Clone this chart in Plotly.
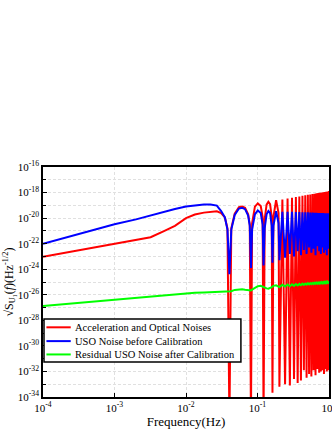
import numpy as np
import plotly.graph_objects as go

# frequency grid (Hz): smooth part, then notches / lobe tops
freq = [1e-4, 2e-4, 5e-4, 1e-3, 2e-3, 3.2e-3, 5e-3, 7e-3, 1e-2, 0.0133, 0.0178, 0.022,
        0.027, 0.031, 0.035, 0.038, 0.0405,
        0.043, 0.048, 0.055, 0.061, 0.067, 0.074, 0.078, 0.081,
        0.084, 0.092, 0.101, 0.111, 0.118, 0.1215,
        0.126, 0.134, 0.142, 0.150, 0.158, 0.162,
        0.167, 0.182, 0.197, 0.2025,
        0.22275, 0.243, 0.26325, 0.2835, 0.30375, 0.324, 0.34425, 0.3645,
        0.38475, 0.405, 0.42525, 0.4455, 0.46575, 0.486, 0.50625, 0.5265,
        0.54675, 0.567, 0.58725, 0.6075, 0.62775, 0.648, 0.66825, 0.6885,
        0.70875, 0.729, 0.74925, 0.7695, 0.78975, 0.81, 0.83025, 0.8505,
        0.87075, 0.891, 0.91125, 0.9315, 0.95175, 0.972,
        1.0]

# log10 of the amplitude spectral densities
red_log = [-23.02, -22.72, -22.32, -21.97, -21.7, -21.5, -21.0, -20.6, -20.0, -19.72, -19.57, -19.5,
           -19.47, -19.6, -19.95, -20.8, -36,
           -20.8, -19.65, -19.15, -19.1, -19.2, -19.7, -20.5, -36,
           -20.4, -19.1, -18.85, -19.05, -19.9, -36,
           -20.1, -18.95, -18.72, -18.9, -19.9, -33.66,
           -19.9, -18.6, -19.6, -33.2,
           -18.54, -33.0, -18.47, -33.1, -18.40, -32.6, -18.35, -32.9,
           -18.30, -32.7, -18.26, -31.9, -18.22, -32.5, -18.18, -32.2,
           -18.15, -32.4, -18.12, -31.9, -18.09, -32.3, -18.06, -31.8,
           -18.03, -32.1, -18.01, -32.0, -17.99, -31.9, -17.97, -32.2,
           -17.95, -31.8, -17.93, -32.0, -17.91, -31.9,
           -17.88]

blue_log = [-22.0, -21.55, -20.95, -20.48, -20.1, -19.78, -19.5, -19.29, -19.1, -19.0, -18.93, -18.93,
            -19.02, -19.45, -19.95, -20.9, -24.4,
            -20.9, -19.75, -19.25, -19.2, -19.3, -19.8, -20.6, -23.9,
            -20.9, -19.7, -19.4, -19.6, -20.5, -23.7,
            -20.8, -19.7, -19.45, -19.6, -20.6, -23.5,
            -20.6, -19.45, -20.4, -23.3,
            -19.50, -23.1, -19.50, -22.8, -19.50, -23.0, -19.52, -22.6,
            -19.52, -22.9, -19.55, -22.5, -19.55, -22.8, -19.55, -22.3,
            -19.57, -22.7, -19.57, -22.4, -19.58, -22.9, -19.58, -22.2,
            -19.60, -22.6, -19.60, -22.8, -19.60, -22.3, -19.60, -22.7,
            -19.62, -22.5, -19.62, -22.9, -19.62, -22.4,
            -19.62]

green_log = [-26.88, -26.73, -26.53, -26.38, -26.23, -26.13, -26.03, -25.96, -25.88, -25.85, -25.82, -25.8,
             -25.8, -25.8, -25.79, -25.78, -25.76,
             -25.72, -25.62, -25.56, -25.56, -25.6, -25.66, -25.68, -25.66,
             -25.6, -25.45, -25.33, -25.3, -25.38, -25.42,
             -25.45, -25.5, -25.52, -25.48, -25.4, -25.36,
             -25.3, -25.26, -25.36, -25.4,
             -25.22, -25.36, -25.2, -25.33, -25.18, -25.3, -25.16, -25.27,
             -25.15, -25.25, -25.13, -25.23, -25.12, -25.21, -25.1, -25.19,
             -25.09, -25.17, -25.08, -25.16, -25.06, -25.14, -25.05, -25.13,
             -25.04, -25.12, -25.03, -25.11, -25.02, -25.1, -25.01, -25.09,
             -25.0, -25.08, -24.99, -25.07, -24.98, -25.06,
             -24.97]

names = ["Acceleration and Optical Noises",
         "USO Noise before Calibration",
         "Residual USO Noise after Calibration"]
colors = ["#ff0000", "#0000ff", "#00ff00"]

x_ticks = [1e-4, 1e-3, 1e-2, 1e-1, 1e0]
x_labels = ["10<sup>-4</sup>", "10<sup>-3</sup>", "10<sup>-2</sup>", "10<sup>-1</sup>", "10<sup>0</sup>"]
y_exp = [-16, -18, -20, -22, -24, -26, -28, -30, -32, -34]
y_minor_exp = [-17, -19, -21, -23, -25, -27, -29, -31, -33]

font = "Liberation Serif"
grid_col = "#e0e0e0"

fig = go.Figure()
for name, vals, c in zip(names, [red_log, blue_log, green_log], colors):
    fig.add_trace(go.Scatter(x=freq, y=10.0 ** np.array(vals), mode="lines", name=name,
                             line=dict(color=c, width=2), showlegend=False))

axis_common = dict(type="log", showline=True, linecolor="black", linewidth=1.5, mirror=True,
                   ticks="inside", ticklen=4, tickcolor="black", tickwidth=1,
                   showgrid=True, gridcolor=grid_col, griddash="3px,2px", gridwidth=1,
                   zeroline=False, automargin=False, ticklabeloverflow="allow",
                   tickfont=dict(family=font, size=11, color="black"))

fig.update_xaxes(range=[-4, 0], tickvals=x_ticks, ticktext=x_labels,
                 title=dict(text="Frequency(Hz)", font=dict(family=font, size=13, color="black"),
                            standoff=2),
                 **axis_common)
fig.update_yaxes(range=[-34, -16], tickvals=[10.0 ** e for e in y_exp],
                 ticktext=["10<sup>%d</sup>" % e for e in y_exp],
                 minor=dict(tickvals=[10.0 ** e for e in y_minor_exp], ticks="inside", ticklen=3,
                            tickcolor="black", showgrid=True, gridcolor=grid_col, griddash="3px,2px"),
                 title=dict(text="√S<sub>U₁</sub>(<i>f</i>)(Hz<sup>-1/2</sup>)",
                            font=dict(family=font, size=12, color="black"), standoff=2),
                 **axis_common)

# legend drawn as a boxed key in the lower left of the plot
legend_rows = [0.303, 0.243, 0.185]
shapes = [dict(type="rect", xref="paper", yref="paper", x0=0.0035, x1=0.692, y0=0.152, y1=0.339,
               line=dict(color="black", width=1.5), fillcolor="white", layer="above")]
annotations = []
for name, c, yr in zip(names, colors, legend_rows):
    shapes.append(dict(type="line", xref="paper", yref="paper", x0=0.012, x1=0.097, y0=yr, y1=yr,
                       line=dict(color=c, width=2), layer="above"))
    annotations.append(dict(text=name, xref="paper", yref="paper", x=0.104, y=yr,
                            xanchor="left", yanchor="middle", showarrow=False,
                            font=dict(family=font, size=10.5, color="black")))

fig.update_layout(
    width=332,
    height=430,
    margin=dict(l=43, r=3, t=167, b=33),
    plot_bgcolor="white",
    paper_bgcolor="white",
    font=dict(family=font, size=10, color="black"),
    shapes=shapes,
    annotations=annotations,
)

fig.write_html("out.html", config={"displayModeBar": False},
               post_script="document.body.style.margin='0';")
